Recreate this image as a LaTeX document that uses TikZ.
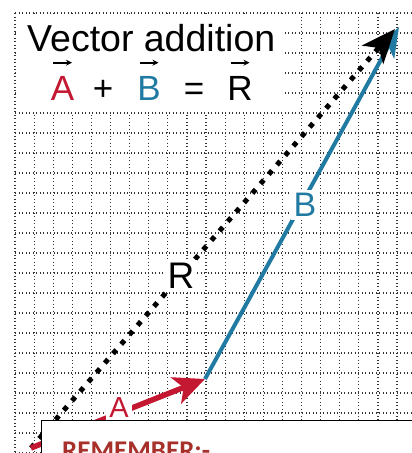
\documentclass[tikz,border=0pt]{standalone}
\usepackage{fontspec}
\setmainfont{Liberation Sans}
\newfontfamily\remfont{Carlito}
\usetikzlibrary{arrows.meta,calc}
\definecolor{vecred}{RGB}{196,24,50}
\definecolor{vecblue}{RGB}{32,122,162}
\definecolor{remred}{RGB}{168,48,42}
\begin{document}
\begin{tikzpicture}[x=1pt,y=-1pt,
  gridline/.style={black!80,line width=1.2pt,dash pattern=on 1.3pt off 2.2pt},
  eq/.style={inner sep=0pt,anchor=base,font=\fontsize{35}{40}\selectfont},
  vecarrow/.style={line width=1.8pt,-{Stealth[length=6pt,width=6pt]}},
  lab/.style={fill=white,inner sep=3pt},
  avec/.style={vecred,line width=5.5pt,-{Stealth[length=31pt,width=28pt,inset=8pt]}},
  bvec/.style={vecblue,line width=4pt,-{Stealth[length=30pt,width=22pt,inset=8pt]}},
  rvec/.style={black,line width=5pt,dash pattern=on 5pt off 7.5pt,-{Stealth[length=34pt,width=28pt,inset=9pt]}},
  memobox/.style={draw=black,line width=1.3pt,fill=white,inner sep=0pt,anchor=north west}]
\useasboundingbox (0,0) rectangle (412,453);
\clip (0,0) rectangle (412,453);
\fill[white] (0,0) rectangle (412,453);
% grid
\foreach \i in {0,...,20} \draw[gridline] ({15+19.1*\i},13) -- ({15+19.1*\i},453);
\foreach \j in {0,...,22} \draw[gridline] (15,{13+20*\j}) -- (412,{13+20*\j});
% title area
\fill[white] (16,14.5) rectangle (285,111.5);
\node[anchor=base west,inner sep=0pt,font=\fontsize{37.5}{40}\selectfont] (title) at (27,51) {Vector addition};
\node[eq,text=vecred] (eqA) at (62.5,100) {A};
\node[eq] (eqplus) at (103,100) {+};
\node[eq,text=vecblue] (eqB) at (149,100) {B};
\node[eq] (eqeq) at (194,100) {=};
\node[eq] (eqR) at (240,100) {R};
\foreach \n in {eqA,eqB,eqR}
  \draw[vecarrow] ([xshift=-9.5pt,yshift=13pt]\n.north) -- ([xshift=9.5pt,yshift=13pt]\n.north);
% vectors
\coordinate (O) at (31,448);
\coordinate (P) at (205,379);
\coordinate (Btip) at (399,27);
\coordinate (Rtip) at (395,29);
\draw[bvec] (P) -- (Btip);
\draw[rvec] (O) -- (Rtip);
\draw[avec] (O) -- (P);
% labels
\node[lab,font=\fontsize{37}{40}\selectfont] (labR) at (181,276) {R};
\node[lab,text=vecblue,font=\fontsize{34}{40}\selectfont] (labB) at (305,205) {B};
\node[lab,text=vecred,font=\fontsize{29}{32}\selectfont] (labA) at (119,408) {A};
% remember box
\node[memobox,minimum width=400pt,minimum height=60pt] (memo) at (41,420) {};
\node[anchor=base west,inner sep=0pt,text=remred,font=\remfont\bfseries\fontsize{27}{30}\selectfont] (remtext) at (62,459) {REMEMBER:-};
\end{tikzpicture}
\end{document}
